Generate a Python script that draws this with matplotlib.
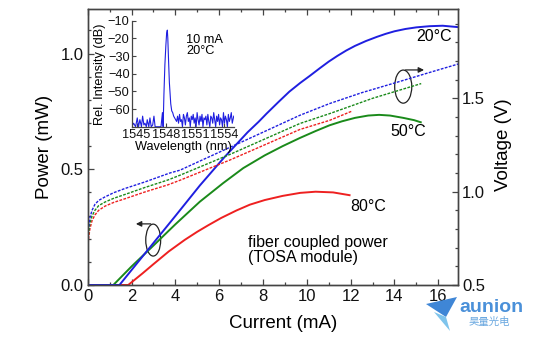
import numpy as np
import matplotlib
matplotlib.use('Agg')
import matplotlib.pyplot as plt
from matplotlib.patches import Ellipse, Polygon

plt.rcParams['font.family'] = ['Liberation Sans', 'DejaVu Sans']

# fiber coupled power (mW) vs current (mA)
i_20 = [0, 1.45, 2.92, 4.0, 5.12, 6.2, 7.3, 7.8, 8.16, 8.7, 9.2, 9.7, 10.13, 10.6, 11.0, 11.4,
        11.8, 12.2, 12.7, 13.2, 13.6, 14.0, 14.5, 15.0, 15.6, 16.2, 16.9]
p_20 = [0, 0, 0.172, 0.298, 0.43, 0.548, 0.66, 0.705, 0.74, 0.79, 0.835, 0.873, 0.903, 0.937,
        0.965, 0.99, 1.013, 1.033, 1.054, 1.072, 1.085, 1.096, 1.106, 1.113, 1.118, 1.12, 1.114]
i_50 = [0, 1.17, 2.0, 2.92, 4.0, 5.12, 6.18, 7.1, 8.08, 8.9, 9.68, 10.4, 11.04, 11.6, 12.2,
        12.8, 13.3, 13.8, 14.4, 14.9, 15.2]
p_50 = [0, 0, 0.08, 0.163, 0.262, 0.36, 0.44, 0.505, 0.56, 0.60, 0.635, 0.665, 0.69, 0.707,
        0.722, 0.732, 0.735, 0.732, 0.722, 0.712, 0.703]
i_80 = [0, 1.85, 2.5, 3.0, 3.7, 4.43, 5.0, 5.5, 6.1, 6.79, 7.4, 8.08, 8.9, 9.7, 10.4, 11.2, 11.95]
p_80 = [0, 0, 0.05, 0.09, 0.145, 0.195, 0.23, 0.258, 0.29, 0.322, 0.347, 0.367, 0.385, 0.398,
        0.403, 0.40, 0.388]

# voltage (V) vs current (mA)
vi_20 = [0, 0, 0.03, 0.1, 0.2, 0.33, 0.5, 0.79, 1.2, 1.7, 2.61, 3.75, 4.21, 5.12, 6.5, 8.16,
         9.68, 11.04, 12.5, 14.23, 15.5, 16.97]
v_20 = [0.3, 0.72, 0.80, 0.86, 0.90, 0.932, 0.953, 0.972, 0.995, 1.017, 1.052, 1.100, 1.115,
        1.164, 1.238, 1.327, 1.409, 1.472, 1.53, 1.59, 1.635, 1.686]
vi_50 = [0, 0, 0.03, 0.1, 0.2, 0.33, 0.5, 0.8, 1.2, 1.7, 2.6, 3.67, 4.21, 6.5, 9.68, 11.04,
         13.0, 15.22]
v_50 = [0.3, 0.70, 0.77, 0.83, 0.87, 0.90, 0.925, 0.945, 0.965, 0.985, 1.022, 1.063, 1.088,
        1.20, 1.365, 1.418, 1.50, 1.579]
vi_80 = [0, 0, 0.04, 0.1, 0.2, 0.33, 0.5, 0.8, 1.2, 1.7, 2.6, 3.67, 4.21, 6.5, 9.68, 11.04, 12.03]
v_80 = [0.3, 0.68, 0.75, 0.80, 0.845, 0.875, 0.90, 0.923, 0.943, 0.962, 0.998, 1.037, 1.061,
        1.17, 1.333, 1.382, 1.43]

# inset spectrum (10 mA, 20 C): wavelength (nm), rel. intensity (dB)
spectrum = [
    (1544.5, -70), (1544.7, -68), (1544.9, -70), (1545.07, -65), (1545.2, -70),
    (1545.34, -66), (1545.5, -70), (1545.62, -64), (1545.75, -69), (1545.86, -68),
    (1546.0, -70), (1546.09, -66), (1546.25, -70), (1546.37, -65), (1546.5, -70),
    (1546.65, -69), (1546.78, -64), (1546.9, -70), (1547.1, -70), (1547.3, -70),
    (1547.5, -70), (1547.65, -62), (1547.72, -70), (1547.8, -52), (1547.9, -35),
    (1548.0, -24), (1548.08, -17), (1548.15, -15.3), (1548.2, -20), (1548.28, -33),
    (1548.36, -45), (1548.43, -51), (1548.5, -57), (1548.6, -61), (1548.7, -62),
    (1548.8, -64), (1548.9, -65), (1549.0, -66), (1549.1, -67), (1549.2, -64),
    (1549.3, -68), (1549.4, -63), (1549.5, -67), (1549.6, -66), (1549.7, -70),
    (1549.8, -63), (1549.9, -65), (1550.0, -69), (1550.1, -64), (1550.2, -62),
    (1550.3, -67), (1550.4, -65), (1550.5, -70), (1550.6, -64), (1550.7, -66),
    (1550.8, -63), (1550.9, -68), (1551.0, -65), (1551.1, -70), (1551.2, -62),
    (1551.3, -66), (1551.4, -69), (1551.5, -64), (1551.6, -67), (1551.7, -63),
    (1551.8, -70), (1551.9, -65), (1552.0, -66), (1552.1, -64), (1552.2, -69),
    (1552.3, -63), (1552.4, -67), (1552.5, -70), (1552.6, -64), (1552.7, -65),
    (1552.8, -68), (1552.9, -62), (1553.0, -66), (1553.1, -70), (1553.2, -64),
    (1553.3, -67), (1553.4, -63), (1553.5, -69), (1553.6, -65), (1553.7, -66),
    (1553.8, -70), (1553.9, -62), (1554.0, -68), (1554.1, -64), (1554.2, -66),
    (1554.3, -70), (1554.4, -63), (1554.5, -67), (1554.6, -65), (1554.7, -62),
    (1554.8, -68), (1554.95, -64),
]

blue = '#1f1fe0'
green = '#1a8a1a'
red = '#ee2020'
spine_c = '#444444'

fig = plt.figure(figsize=(5.34, 3.38), dpi=100)
ax = fig.add_axes([0.1642, 0.1568, 0.6935, 0.8157])
ax2 = ax.twinx()

# voltage curves (dotted, right axis)
dot = (0, (2, 1))
ax2.plot(vi_80, v_80, color=red, lw=1.0, ls=dot)
ax2.plot(vi_50, v_50, color=green, lw=1.0, ls=dot)
ax2.plot(vi_20, v_20, color=blue, lw=1.0, ls=dot)
ax2.set_ylim(0.5, 1.977)
ax2.set_yticks([0.5, 1.0, 1.5])
ax2.set_yticklabels(['0.5', '1.0', '1.5'])
ax2.set_yticks(np.arange(0.5, 1.95, 0.1), minor=True)
ax2.set_ylabel('Voltage (V)', fontsize=13.5)
ax2.yaxis.set_label_coords(1.10, 0.51)

# power curves (solid, left axis)
ax.plot(i_80, p_80, color=red, lw=1.4)
ax.plot(i_50, p_50, color=green, lw=1.4)
ax.plot(i_20, p_20, color=blue, lw=1.4)
ax.set_xlim(0, 16.9)
ax.set_ylim(0, 1.191)
ax.set_xticks(np.arange(0, 17, 2))
ax.set_xticks(np.arange(0, 17, 1), minor=True)
ax.set_yticks([0, 0.5, 1.0])
ax.set_yticklabels(['0.0', '0.5', '1.0'])
ax.set_yticks(np.arange(0, 1.15, 0.1), minor=True)
ax.set_xlabel('Current (mA)', fontsize=13.5)
ax.xaxis.set_label_coords(0.527, -0.108)
ax.set_ylabel('Power (mW)', fontsize=13.5)
ax.yaxis.set_label_coords(-0.094, 0.5)

for a in (ax, ax2):
    for s in a.spines.values():
        s.set_color(spine_c)
        s.set_linewidth(1.0)
    a.tick_params(which='both', direction='in', colors=spine_c, labelcolor='#111111',
                  labelsize=12, width=0.9)
    a.tick_params(which='major', length=4)
    a.tick_params(which='minor', length=2.5)
ax.tick_params(axis='x', which='both', top=True, pad=3)
ax.tick_params(axis='y', pad=3)
ax2.tick_params(axis='y', pad=3)

# labels
ax.text(16.63, 1.072, '20°C', fontsize=11.5, ha='right', va='center')
ax.text(13.8, 0.662, '50°C', fontsize=11.5, ha='left', va='center')
ax.text(12.0, 0.337, '80°C', fontsize=11.5, ha='left', va='center')
ax.text(7.32, 0.151, 'fiber coupled power\n(TOSA module)', fontsize=11.5,
        ha='left', va='center', linespacing=1.05)

# ellipses with arrows
ax.add_patch(Ellipse((2.99, 0.194), 0.68, 0.138, fill=False, ec='#222222', lw=0.9))
ax.annotate('', xy=(2.2, 0.264), xytext=(2.88, 0.264),
            arrowprops=dict(arrowstyle='-|>', color='#222222', lw=0.9, mutation_scale=8,
                            shrinkA=0, shrinkB=0))
ax.add_patch(Ellipse((14.4, 0.857), 0.78, 0.143, fill=False, ec='#222222', lw=0.9))
ax.annotate('', xy=(15.35, 0.929), xytext=(14.5, 0.929),
            arrowprops=dict(arrowstyle='-|>', color='#222222', lw=0.9, mutation_scale=8,
                            shrinkA=0, shrinkB=0))

# inset spectrum
wl = [w for w, _ in spectrum]
db = [d for _, d in spectrum]
ins = fig.add_axes([0.2466, 0.625, 0.192, 0.3136])
ins.patch.set_alpha(0)
ins.plot(wl, db, color=blue, lw=0.8)
ins.set_xlim(1544.5, 1555.0)
ins.set_ylim(-70, -10)
ins.set_xticks([1545, 1548, 1551, 1554])
ins.set_yticks([-10, -20, -30, -40, -50, -60])
ins.spines['top'].set_visible(False)
ins.spines['right'].set_visible(False)
for s in ('left', 'bottom'):
    ins.spines[s].set_color(spine_c)
    ins.spines[s].set_linewidth(0.9)
ins.tick_params(direction='in', length=3, colors=spine_c, labelcolor='#111111',
                labelsize=9.2, pad=1.5)
ins.set_xlabel('Wavelength (nm)', fontsize=9.2, labelpad=0)
ins.set_ylabel('Rel. Intensity (dB)', fontsize=9.2, labelpad=1)
ins.text(1550.1, -24, '10 mA\n20°C', fontsize=9.2, ha='left', va='center', linespacing=0.95)

# watermark logo
def fp(x, y):
    return (x / 534, 1 - y / 338)

fig.patches.append(Polygon([fp(426, 304), fp(457, 297), fp(446, 317)], closed=True,
                           transform=fig.transFigure, fc='#3f86d6', ec='none'))
fig.patches.append(Polygon([fp(434, 312), fp(446, 317), fp(450, 331)], closed=True,
                           transform=fig.transFigure, fc='#7fc4ec', ec='none'))
fig.text(459 / 534, 1 - 308 / 338, 'aunion', fontsize=14, fontweight='bold',
         color='#4a90d9', ha='left', va='center')
fig.text(489 / 534, 1 - 322 / 338, '昊量光电', fontsize=7.5, color='#6aa8e0',
         ha='center', va='center', family=['Noto Sans CJK SC', 'DejaVu Sans'])

fig.savefig('out.png', dpi=100)
